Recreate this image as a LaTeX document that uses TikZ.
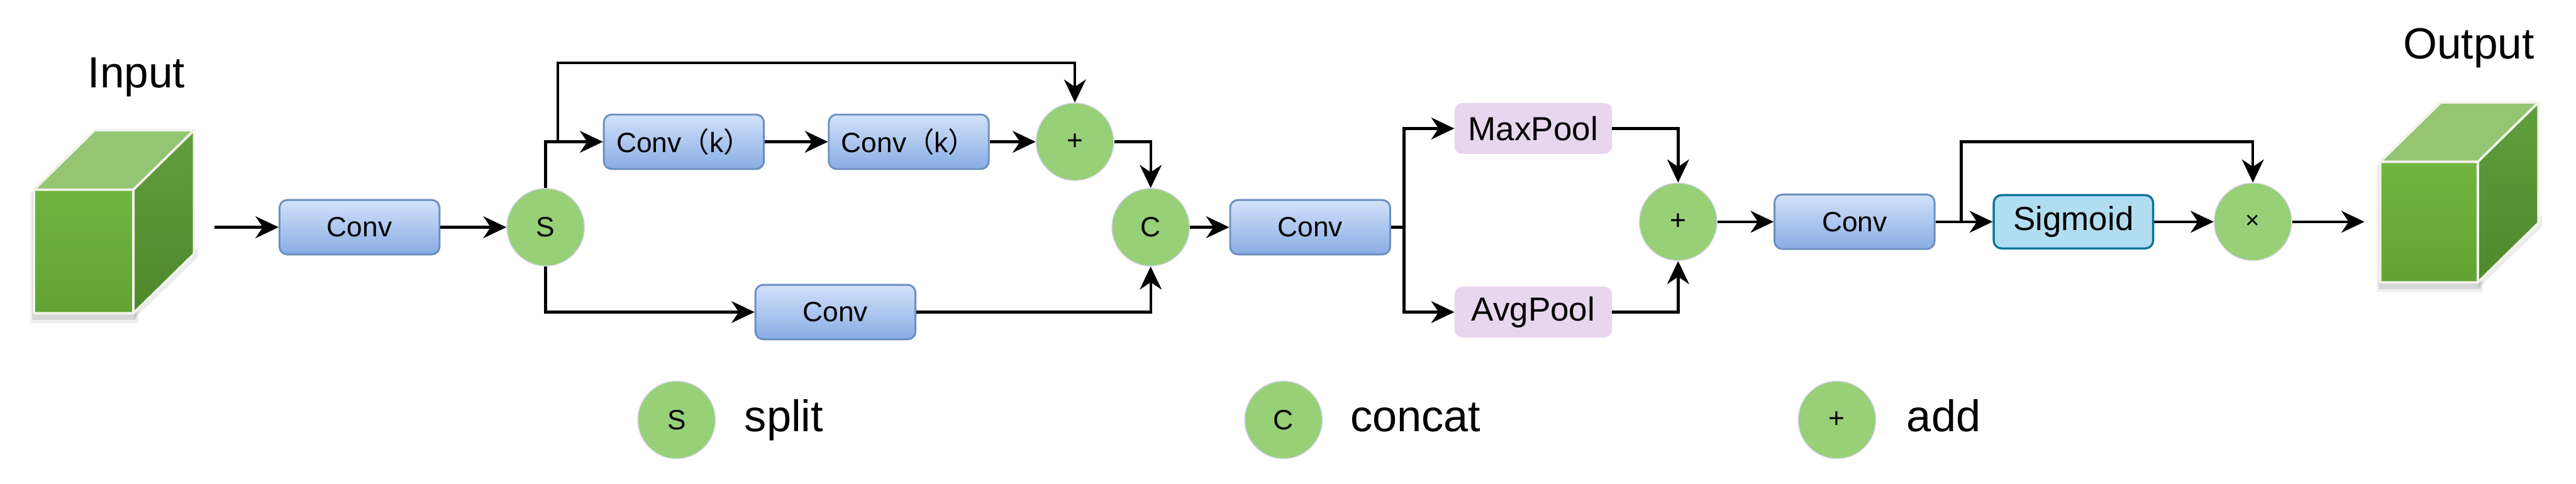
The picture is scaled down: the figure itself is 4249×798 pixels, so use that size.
\documentclass[tikz,border=0pt]{standalone}
\usepackage{fontspec}
\setmainfont{Liberation Sans}
\newfontfamily\cjk{Noto Sans CJK SC}
\usetikzlibrary{arrows.meta,calc}
\definecolor{gc}{HTML}{97D077}
\definecolor{gcedge}{HTML}{D9D4EE}
\definecolor{convtop}{HTML}{D2E2FA}
\definecolor{convbot}{HTML}{88ACE4}
\definecolor{convedge}{HTML}{6C8EBF}
\definecolor{sigfill}{HTML}{B1DDF0}
\definecolor{sigedge}{HTML}{10739E}
\definecolor{poolfill}{HTML}{E8D6EF}
\definecolor{cubefrontA}{HTML}{72B440}
\definecolor{cubefrontB}{HTML}{62A333}
\definecolor{cubetop}{HTML}{93C572}
\definecolor{cuberightA}{HTML}{619E3D}
\definecolor{cuberightB}{HTML}{4E892B}
\definecolor{cubeedge}{HTML}{F2F2EC}
\newcommand\drawcube[4]{%
  \fill[black,opacity=0.06] (#1-6,#2+4) rectangle (#1+#3+8,#2+#4+16);
  \fill[black,opacity=0.10] (#1-3,#2+4) rectangle (#1+#3+5,#2+#4+11);
  \fill[black,opacity=0.08] (#1+#3,#2+#4+10) -- (#1+#3+106,#2+#4-92) -- (#1+#3+106,#2+#4-110) -- (#1+#3,#2+#4-8) -- cycle;
  \shade[top color=cubefrontA,bottom color=cubefrontB] (#1,#2) rectangle (#1+#3,#2+#4);
  \fill[cubetop] (#1,#2) -- (#1+100,#2-98) -- (#1+#3+100,#2-98) -- (#1+#3,#2) -- cycle;
  \shade[top color=cuberightA,bottom color=cuberightB] (#1+#3,#2) -- (#1+#3+100,#2-98) -- (#1+#3+100,#2+#4-98) -- (#1+#3,#2+#4) -- cycle;
  \draw[cubeedge,line width=4pt,line join=round] (#1,#2) rectangle (#1+#3,#2+#4)
    (#1,#2) -- (#1+100,#2-98) -- (#1+#3+100,#2-98) -- (#1+#3+100,#2+#4-98) -- (#1+#3,#2+#4)
    (#1+#3,#2) -- (#1+#3+100,#2-98);
}
\tikzset{
  convbox/.style={rectangle, rounded corners=13pt, draw=convedge, line width=3pt,
    top color=convtop, bottom color=convbot, minimum width=264pt, minimum height=90pt,
    inner sep=0pt, font=\fontsize{46}{50}\selectfont},
  sigbox/.style={rectangle, rounded corners=13pt, draw=sigedge, line width=3.5pt,
    fill=sigfill, minimum width=263pt, minimum height=88pt, inner sep=0pt,
    font=\fontsize{55}{60}\selectfont},
  poolbox/.style={rectangle, rounded corners=13pt, draw=none, fill=poolfill,
    minimum width=260pt, minimum height=84pt, inner sep=0pt,
    font=\fontsize{55}{60}\selectfont},
  op/.style={circle, fill=gc, draw=gcedge, line width=1.5pt, minimum size=128pt,
    inner sep=0pt, font=\fontsize{46}{50}\selectfont},
  ln/.style={line width=4.5pt, draw=black},
  arr/.style={ln, -{Stealth[length=38pt,width=36pt,inset=12pt]}},
  bigtxt/.style={font=\fontsize{72}{76}\selectfont, inner sep=0pt},
  legtxt/.style={font=\fontsize{73}{76}\selectfont, inner sep=0pt, anchor=base west},
}
\begin{document}
\begin{tikzpicture}[x=1pt,y=-1pt]
\useasboundingbox (0,0) rectangle (4249,798);
\fill[white] (0,0) rectangle (4249,798);

% cubes and titles
\drawcube{56}{313}{164}{204}
\drawcube{3926}{267}{161}{199}
\node[bigtxt, anchor=base] (intxt) at (225,145) {Input};
\node[bigtxt, anchor=base] (outtxt) at (4072,97) {Output};

% nodes
\node[convbox] (conv1) at (593,375) {Conv};
\node[op] (S) at (900,375) {S};
\node[convbox] (convk1) at (1128,234) {Conv{\cjk （}k{\cjk ）}};
\node[convbox] (convk2) at (1499,234) {Conv{\cjk （}k{\cjk ）}};
\node[op] (add1) at (1773,234) {+};
\node[convbox] (convb) at (1378,515) {Conv};
\node[op] (C) at (1898,375) {C};
\node[convbox] (conv3) at (2161,375) {Conv};
\node[poolbox] (maxp) at (2529,212) {MaxPool};
\node[poolbox] (avgp) at (2529,515) {AvgPool};
\node[op] (add2) at (2768,366) {+};
\node[convbox] (conv4) at (3059,366) {Conv};
\node[sigbox] (sig) at (3420,366) {Sigmoid};
\node[op, font=\fontsize{40}{44}\selectfont] (mul) at (3716,366) {×};

% helper coordinates
\coordinate (incube) at (354,375);
\coordinate (skip1) at (920,234);
\coordinate (top1) at (920,104);
\coordinate (br1) at (2316,375);
\coordinate (br2) at (3235,366);
\coordinate (top2) at (3235,234);
\coordinate (outcube) at (3900,366);

% connectors
\draw[arr] (incube) -- (conv1);
\draw[arr] (conv1) -- (S);
\draw[arr] (S.north) |- (convk1.west);
\draw[arr] (skip1) -- (top1) -| (add1.north);
\draw[arr] (convk1) -- (convk2);
\draw[arr] (convk2) -- (add1);
\draw[arr] (add1.east) -| (C.north);
\draw[arr] (S.south) |- (convb.west);
\draw[arr] (convb.east) -| (C.south);
\draw[arr] (C) -- (conv3);
\draw[ln] (conv3.east) -- (br1);
\draw[arr] (br1) |- (maxp.west);
\draw[arr] (br1) |- (avgp.west);
\draw[arr] (maxp.east) -| (add2.north);
\draw[arr] (avgp.east) -| (add2.south);
\draw[arr] (add2) -- (conv4);
\draw[arr] (conv4) -- (sig);
\draw[arr] (br2) -- (top2) -| (mul.north);
\draw[arr] (sig) -- (mul);
\draw[arr] (mul) -- (outcube);

% legend
\node[op] (legS) at (1116,693) {S};
\node[legtxt] (legStxt) at (1228,712) {split};
\node[op] (legC) at (2117,693) {C};
\node[legtxt] (legCtxt) at (2227,712) {concat};
\node[op] (legA) at (3030,693) {+};
\node[legtxt] (legAtxt) at (3145,712) {add};
\end{tikzpicture}
\end{document}
